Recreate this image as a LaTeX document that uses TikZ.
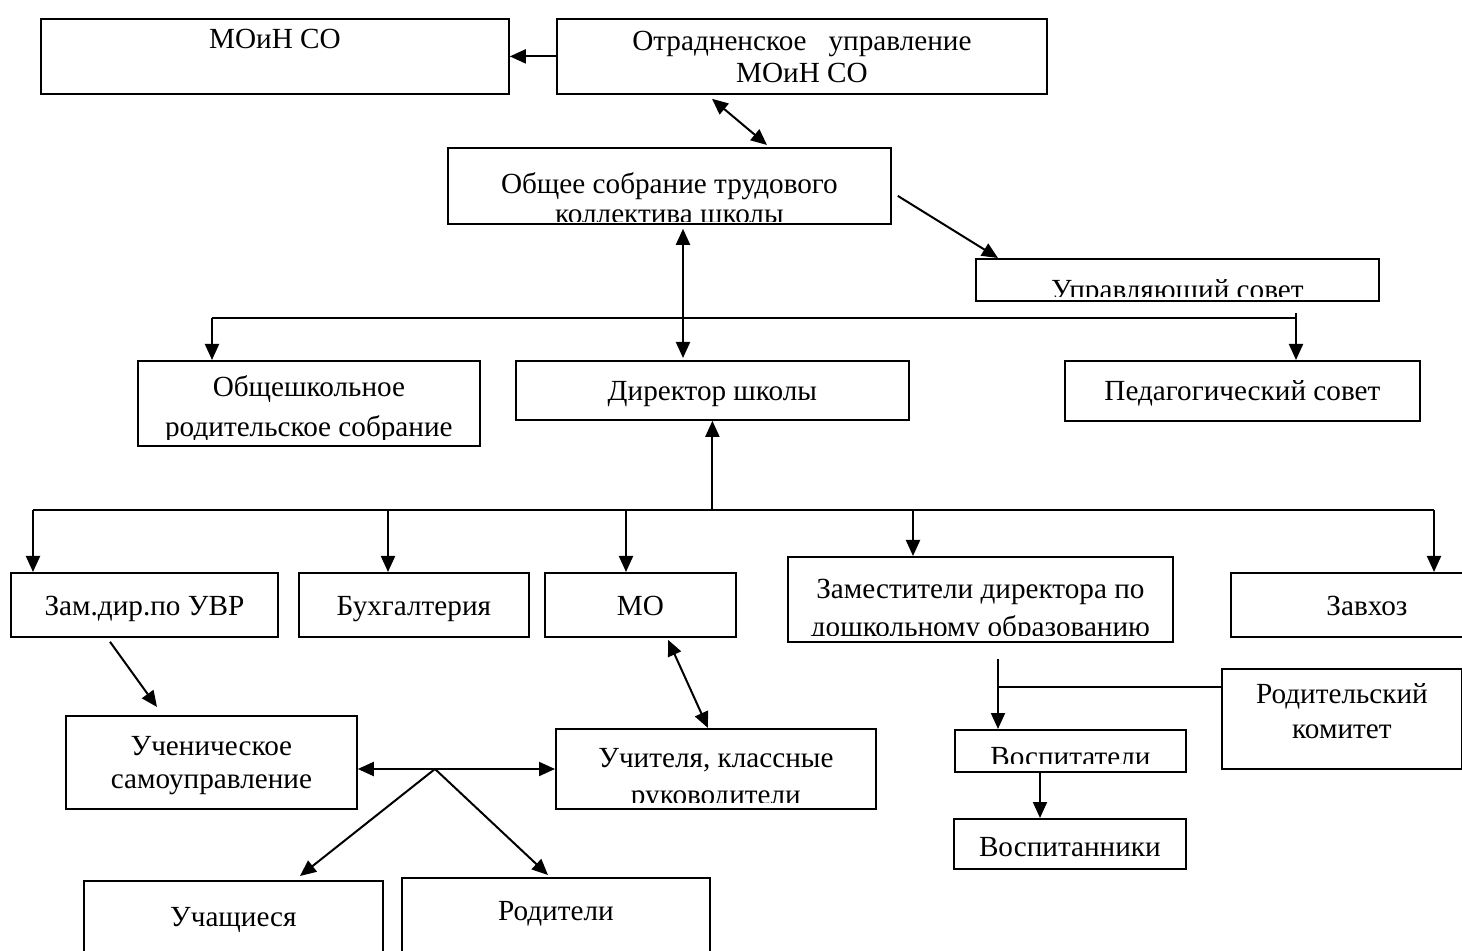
\documentclass[tikz,border=0pt]{standalone}
\usepackage{fontspec}
\setmainfont{Liberation Serif}
\usetikzlibrary{arrows.meta}

\tikzset{
  bx/.style={draw, rectangle, line width=0.9pt, inner sep=0pt, anchor=north west},
  txt/.style={font=\fontsize{14.6}{16}\selectfont, align=center, inner sep=0pt},
  % #1 = how much of the box bottom hides the text, #2 = baseline of the last line, #3 = text
  says/.style n args={3}{path picture={
      \clip ([yshift=#1]path picture bounding box.south west) rectangle (path picture bounding box.north east);
      \node[txt, anchor=base] at ([yshift=-#2]path picture bounding box.north) {#3};}},
}

\begin{document}
\begin{tikzpicture}[x=0.5pt, y=-0.5pt, line width=1pt, >={Triangle[length=8pt,width=7pt]}]
\useasboundingbox (0,0) rectangle (1462,951);

\node[bx, minimum width=234pt, minimum height=37.5pt, says={0pt}{15pt}{МОиН СО}] (moin) at (40,18) {};
\node[bx, minimum width=245pt, minimum height=37.5pt, says={0pt}{32pt}{Отрадненское\ \ \ управление\\МОиН СО}] (otrad) at (556,18) {};
\node[bx, minimum width=221.5pt, minimum height=38pt, says={1pt}{38pt}{Общее собрание трудового\\[-1pt]коллектива школы}] (sobr) at (447,147) {};
\node[bx, minimum width=201.5pt, minimum height=21pt, says={2pt}{20.5pt}{Управляющий совет}] (upr) at (975,258) {};

\node[bx, minimum width=171pt, minimum height=42.5pt, says={3pt}{38pt}{Общешкольное\\[4pt]родительское собрание}] (obsh) at (137,360) {};
\node[bx, minimum width=196.5pt, minimum height=29.5pt, says={0pt}{20pt}{Директор школы}] (dir) at (515,360) {};
\node[bx, minimum width=177.5pt, minimum height=30pt, says={0pt}{20pt}{Педагогический совет}] (ped) at (1064,360) {};

\node[bx, minimum width=133.5pt, minimum height=32pt, says={0pt}{21.5pt}{Зам.дир.по УВР}] (zam) at (10,572) {};
\node[bx, minimum width=115pt, minimum height=32pt, says={0pt}{21.5pt}{Бухгалтерия}] (buh) at (298,572) {};
\node[bx, minimum width=95.5pt, minimum height=32pt, says={0pt}{21.5pt}{МО}] (mo) at (544,572) {};
\node[bx, minimum width=192.5pt, minimum height=42.5pt, says={3pt}{40pt}{Заместители директора по\\[3pt]дошкольному образованию}] (zamdo) at (787,556) {};
\node[bx, minimum width=136pt, minimum height=32pt, says={0pt}{21.5pt}{Завхоз}] (zavh) at (1230,572) {};

\node[bx, minimum width=120pt, minimum height=50pt, says={0pt}{35pt}{Родительский\\[1.5pt]комитет}] (komit) at (1221,668) {};
\node[bx, minimum width=145.5pt, minimum height=46.5pt, says={0pt}{36.5pt}{Ученическое\\[0.5pt]самоуправление}] (uchs) at (65,715) {};
\node[bx, minimum width=160pt, minimum height=40pt, says={3pt}{38pt}{Учителя, классные\\[2.5pt]руководители}] (uchit) at (555,728) {};
\node[bx, minimum width=115.5pt, minimum height=21pt, says={4pt}{18.5pt}{Воспитатели}] (vosp) at (954,729) {};
\node[bx, minimum width=116pt, minimum height=25pt, says={0pt}{19pt}{Воспитанники}] (vospn) at (953,818) {};
\node[bx, minimum width=149.5pt, minimum height=50pt, says={0pt}{23pt}{Учащиеся}] (ucha) at (83,880) {};
\node[bx, minimum width=154pt, minimum height=50pt, says={0pt}{21.5pt}{Родители}] (rodit) at (401,877) {};

% shared lines
\coordinate (busA) at (212,318);
\coordinate (busB) at (1296,318);
\coordinate (busC) at (33,510);
\coordinate (busD) at (1434,510);
\coordinate (dropB) at (388,510);
\coordinate (dropM) at (626,510);
\coordinate (dropZ) at (913,510);
\coordinate (hub) at (435,769);
\coordinate (fork) at (998,687);

\draw (busA) -- (busB);
\draw (busC) -- (busD);

\path
    (otrad.west) edge[->] (moin.east)
    ([xshift=78pt,yshift=-2pt]otrad.south west) edge[<->] ([xshift=160pt,yshift=1pt]sobr.north west)
    ([xshift=3pt,yshift=-5pt]sobr.east) edge[->] ([xshift=11.5pt]upr.north west)
    ([xshift=118pt,yshift=-2pt]sobr.south west) edge[<->] ([xshift=84pt,yshift=1pt]dir.north west)

    (busA) edge[->] (busA |- obsh.north)
    ([yshift=2.5pt]busB) edge[->] (busB |- ped.north)

    (dir.south |- busC) edge[->] (dir.south)
    (busC) edge[->] (busC |- zam.north)
    (dropB) edge[->] (dropB |- buh.north)
    (dropM) edge[->] (dropM |- mo.north)
    (dropZ) edge[->] (dropZ |- zamdo.north)
    (busD) edge[->] (busD |- zavh.north)

    ([xshift=50pt,yshift=-2pt]zam.south west) edge[->] ([xshift=46pt,yshift=4pt]uchs.north west)
    ([xshift=62pt,yshift=-1pt]mo.south west) edge[<->] ([xshift=76.5pt]uchit.north west)

    (hub) edge[->] (hub -| uchs.east)
    (hub) edge[->] (hub -| uchit.west)
    (hub) edge[->] ([xshift=108.5pt,yshift=2pt]ucha.north west)
    (hub) edge[->] ([xshift=73.5pt,yshift=1pt]rodit.north west)

    ([xshift=105.5pt,yshift=-8pt]zamdo.south west) edge[->] (fork |- vosp.north)
    (fork) edge (fork -| komit.west)
    ([xshift=43pt]vosp.south west) edge[->] ([xshift=43.5pt]vospn.north west);
\end{tikzpicture}
\end{document}
